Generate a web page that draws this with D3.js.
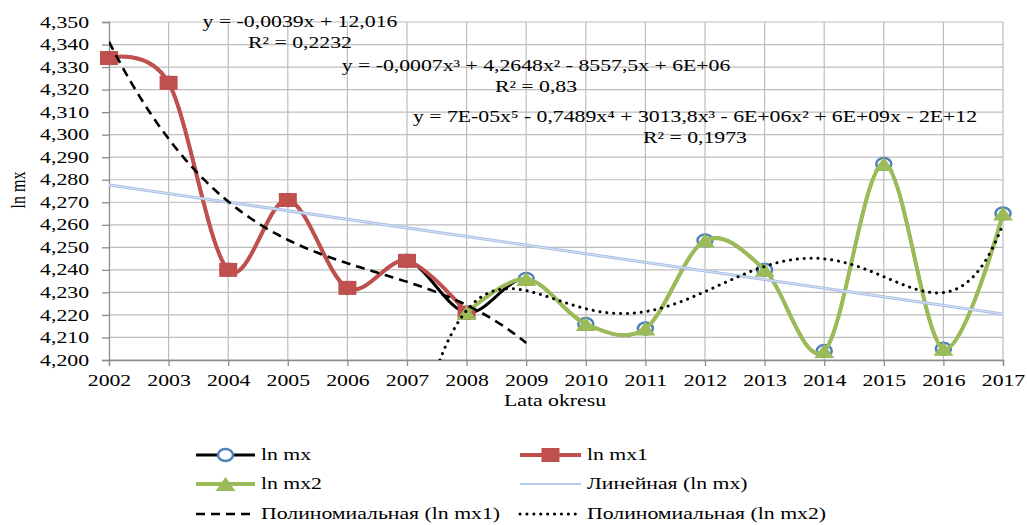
<!DOCTYPE html>
<html>
<head>
<meta charset="utf-8">
<script src="https://cdn.jsdelivr.net/npm/d3@7"></script>
<style>
  body { margin: 0; background: #fff; }
  svg { display: block; }
</style>
</head>
<body>
<svg id="chart" width="1027" height="525"></svg>
<script>
// data
const years = [2002, 2003, 2004, 2005, 2006, 2007, 2008, 2009, 2010, 2011, 2012, 2013, 2014, 2015, 2016, 2017];
const lnMx = [4.334, 4.323, 4.240, 4.271, 4.232, 4.244, 4.221, 4.236, 4.216, 4.214, 4.253, 4.240, 4.204, 4.287, 4.205, 4.265];
const years1 = [2002, 2003, 2004, 2005, 2006, 2007, 2008];
const lnMx1 = [4.334, 4.323, 4.240, 4.271, 4.232, 4.244, 4.221];
const years2 = [2008, 2009, 2010, 2011, 2012, 2013, 2014, 2015, 2016, 2017];
const lnMx2 = [4.221, 4.236, 4.216, 4.214, 4.253, 4.240, 4.204, 4.287, 4.205, 4.265];
const yTicks = d3.range(4.2, 4.3501, 0.01);

const eqLinear = ["y = -0,0039x + 12,016", "R\u00b2 = 0,2232"];
const eqPoly3 = ["y = -0,0007x\u00b3 + 4,2648x\u00b2 - 8557,5x + 6E+06", "R\u00b2 = 0,83"];
const eqPoly5 = ["y = 7E-05x\u2075 - 0,7489x\u2074 + 3013,8x\u00b3 - 6E+06x\u00b2 + 6E+09x - 2E+12", "R\u00b2 = 0,1973"];

const SX = 1.36; // the picture is stretched sideways
const FS = 16;
const FONT = '"Liberation Serif", "Times New Roman", "DejaVu Serif", serif';
const RED = "#C0504D", GREEN = "#9BBB59", BLUE = "#4F81BD";

const svg = d3.select("#chart");
const pLeft = 109, pRight = 1003, pTop = 22, pBottom = 360;

const x = d3.scaleLinear().domain([2002, 2017]).range([pLeft, pRight]);
const y = d3.scaleLinear().domain([4.2, 4.35]).range([pBottom, pTop]);
const loc = d3.formatLocale({decimal: ",", thousands: " ", grouping: [3], currency: ["", ""]});
const fmt = loc.format(".3f");

// least squares polynomial, x centred for stability
function polyfit(xs, ys, deg) {
  const m = d3.mean(xs), s = (d3.max(xs) - d3.min(xs)) / 2;
  const t = xs.map(v => (v - m) / s);
  const n = deg + 1;
  const A = d3.range(n).map(i => d3.range(n).map(j => d3.sum(t, v => Math.pow(v, i + j))));
  const b = d3.range(n).map(i => d3.sum(t, (v, k) => Math.pow(v, i) * ys[k]));
  for (let i = 0; i < n; i++) {
    let p = i;
    for (let r = i + 1; r < n; r++) if (Math.abs(A[r][i]) > Math.abs(A[p][i])) p = r;
    [A[i], A[p]] = [A[p], A[i]]; [b[i], b[p]] = [b[p], b[i]];
    for (let r = i + 1; r < n; r++) {
      const f = A[r][i] / A[i][i];
      for (let c = i; c < n; c++) A[r][c] -= f * A[i][c];
      b[r] -= f * b[i];
    }
  }
  const c = new Array(n);
  for (let i = n - 1; i >= 0; i--) {
    let acc = b[i];
    for (let j = i + 1; j < n; j++) acc -= A[i][j] * c[j];
    c[i] = acc / A[i][i];
  }
  return v => { const u = (v - m) / s; return c.reduce((a, ci, i) => a + ci * Math.pow(u, i), 0); };
}

function txt(g, px, py, s, anchor, size) {
  return g.append("text")
    .attr("transform", `translate(${px},${py}) scale(${SX},1)`)
    .attr("text-anchor", anchor || "start")
    .attr("dominant-baseline", "central")
    .style("font-family", FONT)
    .style("font-size", (size || FS) + "px")
    .attr("fill", "#000")
    .text(s);
}

svg.append("defs").append("clipPath").attr("id", "plot")
  .append("rect").attr("x", pLeft).attr("y", pTop).attr("width", pRight - pLeft).attr("height", pBottom - pTop);

// grid
svg.append("g").selectAll("line").data(yTicks).join("line")
  .attr("x1", pLeft).attr("x2", pRight).attr("y1", d => y(d)).attr("y2", d => y(d))
  .attr("stroke", "#bdbdbd").attr("stroke-width", 1.2);
svg.append("g").selectAll("line").data(years.slice(1)).join("line")
  .attr("x1", d => x(d)).attr("x2", d => x(d)).attr("y1", pTop).attr("y2", pBottom)
  .attr("stroke", "#bdbdbd").attr("stroke-width", 1.2);

// axes
const ax = svg.append("g").attr("transform", `translate(${pLeft},0)`)
  .call(d3.axisLeft(y).tickValues(yTicks).tickSize(7).tickFormat(fmt));
ax.selectAll("text").attr("x", -20 / SX);
const bx = svg.append("g").attr("transform", `translate(0,${pBottom})`)
  .call(d3.axisBottom(x).tickValues(years).tickSize(6).tickFormat(d3.format("d")));
bx.selectAll("text").attr("y", 15);
[ax, bx].forEach(a => {
  a.attr("font-family", null).attr("font-size", null);
  a.selectAll("line, path").attr("stroke", "#8c8c8c").attr("stroke-width", 1.3);
  a.selectAll("text").attr("transform", `scale(${SX},1)`)
    .style("font-family", FONT).style("font-size", FS + "px").attr("fill", "#000");
});

txt(svg, 555, 401, "Lata okresu", "middle");
svg.append("text")
  .attr("transform", `translate(18,190) rotate(-90) scale(1,${SX})`)
  .attr("text-anchor", "middle").attr("dominant-baseline", "central")
  .style("font-family", FONT).style("font-size", FS + "px").text("ln mx");

const curve = d3.curveCardinal.tension(0);
const line = d3.line().x(d => x(d[0])).y(d => y(d[1])).curve(curve);

// markers
function circleMk(g, px, py) {
  g.append("ellipse").attr("cx", px).attr("cy", py).attr("rx", 7.5).attr("ry", 6)
    .attr("fill", "#fff").attr("stroke", BLUE).attr("stroke-width", 2.5);
}
function squareMk(g, px, py) {
  g.append("rect").attr("x", px - 9).attr("y", py - 7).attr("width", 18).attr("height", 14).attr("fill", RED);
}
function triMk(g, px, py) {
  g.append("path").attr("d", `M${px - 10},${py + 7}L${px + 10},${py + 7}L${px},${py - 7}Z`).attr("fill", GREEN);
}

const plot = svg.append("g");
plot.append("path").attr("d", line(d3.zip(years, lnMx))).attr("fill", "none").attr("stroke", "#000").attr("stroke-width", 3);
years.forEach((yr, i) => circleMk(plot, x(yr), y(lnMx[i])));
plot.append("path").attr("d", line(d3.zip(years1, lnMx1))).attr("fill", "none").attr("stroke", RED).attr("stroke-width", 4);
years1.forEach((yr, i) => squareMk(plot, x(yr), y(lnMx1[i])));
plot.append("path").attr("d", line(d3.zip(years2, lnMx2))).attr("fill", "none").attr("stroke", GREEN).attr("stroke-width", 4);
years2.forEach((yr, i) => triMk(plot, x(yr), y(lnMx2[i])));

// trend lines
const trend = svg.append("g").attr("clip-path", "url(#plot)");
const straight = d3.line().x(d => x(d[0])).y(d => y(d[1]));
const fLin = polyfit(years, lnMx, 1);
const linPts = [2002, 2017].map(v => [v, fLin(v)]);
trend.append("path").attr("d", straight(linPts)).attr("stroke", "#a9c0e6").attr("stroke-width", 3).attr("fill", "none");
trend.append("path").attr("d", straight(linPts)).attr("stroke", "#e4ecf8").attr("stroke-width", 0.8).attr("fill", "none");

const f3 = polyfit(years1, lnMx1, 3);
trend.append("path").attr("d", straight(d3.range(2002, 2009.001, 0.05).map(v => [v, f3(v)])))
  .attr("fill", "none").attr("stroke", "#000").attr("stroke-width", 2.6).attr("stroke-dasharray", "9,6");
const f5 = polyfit(years2, lnMx2, 5);
trend.append("path").attr("d", straight(d3.range(2007, 2017.001, 0.05).map(v => [v, f5(v)])))
  .attr("fill", "none").attr("stroke", "#000").attr("stroke-width", 3).attr("stroke-linecap", "round")
  .attr("stroke-dasharray", "0.1,6.8");

// equation labels
const eqs = svg.append("g");
[[eqLinear, 300, 22], [eqPoly3, 536, 66], [eqPoly5, 695, 117]].forEach(([lines, cx, cy]) => {
  lines.forEach((s, i) => txt(eqs, cx, cy + i * 21, s, "middle"));
});

// legend
const lg = svg.append("g");
const rows = [455, 484, 514];
const cols = [[196, 255, 261], [520, 581, 587]];
const items = [
  {name: "ln mx", col: 0, row: 0, stroke: "#000", w: 3, mk: circleMk},
  {name: "ln mx1", col: 1, row: 0, stroke: RED, w: 4, mk: squareMk},
  {name: "ln mx2", col: 0, row: 1, stroke: GREEN, w: 4, mk: triMk},
  {name: "Линейная (ln mx)", col: 1, row: 1, stroke: "#b4c9ec", w: 2},
  {name: "Полиномиальная (ln mx1)", col: 0, row: 2, stroke: "#000", w: 2.6, dash: "9,6"},
  {name: "Полиномиальная (ln mx2)", col: 1, row: 2, stroke: "#000", w: 3, dash: "0.1,6.8", cap: "round"}
];
items.forEach(it => {
  const [x0, x1, tx] = cols[it.col], yy = rows[it.row];
  lg.append("line").attr("x1", x0).attr("x2", x1).attr("y1", yy).attr("y2", yy)
    .attr("stroke", it.stroke).attr("stroke-width", it.w)
    .attr("stroke-dasharray", it.dash || null).attr("stroke-linecap", it.cap || "butt");
  if (it.mk) it.mk(lg, (x0 + x1) / 2, yy);
  txt(lg, tx, yy, it.name);
});
</script>
</body>
</html>
